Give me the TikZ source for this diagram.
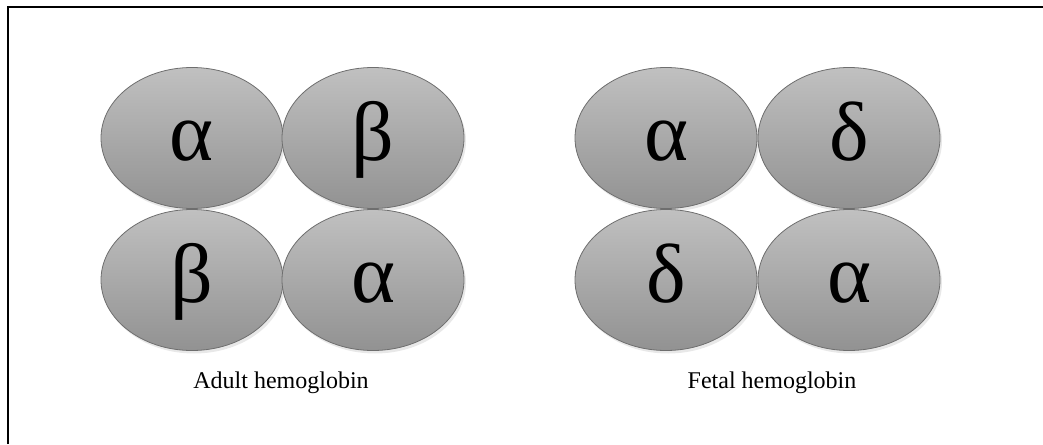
\documentclass[tikz,border=0pt]{standalone}
\usepackage{fontspec}
\setmainfont{Liberation Serif}
\usepackage{xcolor}
\usetikzlibrary{shapes.geometric, shadows, positioning}
\definecolor{globintop}{RGB}{192, 192, 192}
\definecolor{globinbottom}{RGB}{146, 146, 146}
\definecolor{globinedge}{RGB}{110, 110, 110}
\tikzset{
  globin/.style={ellipse, draw=globinedge, line width=0.8pt,
              top color=globintop, bottom color=globinbottom,
              minimum width=182pt, minimum height=141pt, inner sep=0pt,
              text height=52pt, text depth=8pt,
              font=\fontsize{84}{84}\selectfont,
              drop shadow={opacity=0.18, shadow xshift=2pt, shadow yshift=-3pt}},
  caption/.style={font=\fontsize{24}{26}\selectfont, inner sep=0pt},
  frameline/.style={line width=2.6pt, color=black},
}

\begin{document}
\begin{tikzpicture}[x=1pt, y=-1pt]
  \useasboundingbox (0,0) rectangle (1043,444);
  \draw[frameline] (8,444) -- (8,7) -- (1043,7);

  % adult
  \node[globin] (adultA1) at (192,138) {α};
  \node[globin] (adultB1) at (373,138) {β};
  \node[globin] (adultB2) at (192,280) {β};
  \node[globin] (adultA2) at (373,280) {α};
  \node[caption, anchor=base] (adultlabel) at (281,388) {Adult hemoglobin};

  % fetal
  \node[globin] (fetalA1) at (666,138) {α};
  \node[globin] (fetalD1) at (849,138) {δ};
  \node[globin] (fetalD2) at (666,280) {δ};
  \node[globin] (fetalA2) at (849,280) {α};
  \node[caption, anchor=base] (fetallabel) at (772,388) {Fetal hemoglobin};
\end{tikzpicture}
\end{document}
